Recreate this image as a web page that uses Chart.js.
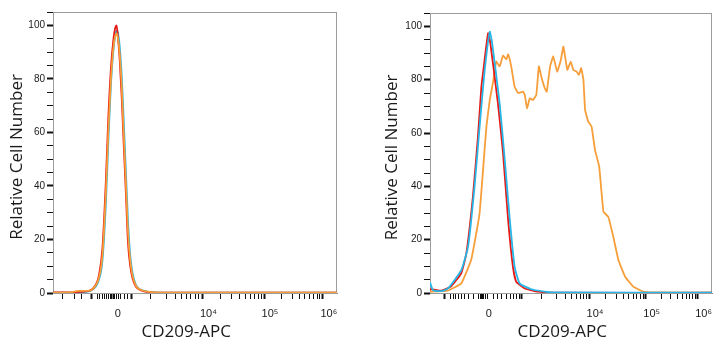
<!DOCTYPE html>
<html lang="en">
<head>
<meta charset="UTF-8">
<title>CD209-APC histograms</title>
<script src="https://cdn.jsdelivr.net/npm/chart.js"></script>
<style>
  html, body { margin: 0; padding: 0; background: #fff; }
  body { width: 722px; height: 350px; position: relative; overflow: hidden; }
  .panel { position: absolute; top: 0; width: 361px; height: 350px; }
  #leftBox { left: 0; }
  #rightBox { left: 361px; }
</style>
</head>
<body>

<div class="panel" id="leftBox"><canvas id="leftChart" width="361" height="350"></canvas></div>
<div class="panel" id="rightBox"><canvas id="rightChart" width="361" height="350"></canvas></div>

<script>
// x values are display channels (0-1000 across the plot), y is % of max
const tickLabels = ["", "0", "", "10⁴", "10⁵", "10⁶"];

// left panel: all three samples overlap
const leftMajor = [136, 207, 277, 526, 743, 950];
const leftMinor = [32, 77, 102, 155, 165, 176, 183, 190, 197, 202, 213, 218, 225, 232, 239, 250, 261,
                   342, 398, 430, 453, 471, 485, 500, 514,
                   591, 629, 656, 677, 695, 709, 722, 733,
                   805, 842, 867, 887, 904, 918, 930, 940];
const leftX      = [0, 60, 90, 130, 150, 162, 174, 186, 195, 204, 213, 219, 224, 229, 235, 242, 248, 256, 264, 272, 280, 292, 310, 340, 380, 1000];
const leftRed    = [0.2, 0.2, 0.4, 0.9, 3, 6.7, 16.7, 41.5, 66, 84, 95, 99, 100, 95, 87, 73, 58, 39, 19, 10, 5.5, 2.3, 1, 0.3, 0.1, 0.1];
const leftCyan   = [0.1, 0.1, 0.3, 0.7, 2.3, 5, 12, 33, 57, 78, 91, 96, 98, 97, 92, 81, 67, 47, 27, 14, 7.5, 3, 1.2, 0.4, 0.1, 0.1];
const leftOrange = [0.1, 0.2, 0.8, 0.9, 2.8, 5.8, 14, 37, 61, 80, 92, 96, 97, 95, 89, 77, 62, 43, 23, 12, 6.5, 2.7, 1.1, 0.4, 0.1, 0.1];

// right panel: stained sample (orange) shifts up
const rightMajor = [51, 187, 323, 564, 765, 949];
const rightMinor = [71, 83, 91, 100, 110, 122, 136, 154, 171, 178, 184, 191, 198, 204,
                    224, 240, 254, 272, 284, 295, 307, 317,
                    396, 449, 479, 502, 520, 534, 546, 556,
                    624, 660, 685, 704, 720, 734, 746, 756,
                    821, 853, 876, 894, 909, 921, 932, 941];
const rightRedX  = [0, 40, 74, 111, 129, 152, 170, 182, 188, 206, 214, 241, 259, 277, 294, 306, 336, 383, 461, 1000];
const rightRedY  = [1.5, 0.9, 2.4, 7.5, 15, 36, 58.7, 77, 82.5, 97.4, 93.7, 71, 52.5, 27.4, 9.9, 4.2, 1.7, 0.5, 0.1, 0.1];
const rightCyanX = [0, 11, 40, 64, 111, 135, 158, 178, 194, 212, 220, 247, 265, 283, 300, 318, 359, 407, 433, 1000];
const rightCyanY = [4, 1, 0.7, 1.7, 8.6, 17.4, 40, 65, 83.7, 98, 94, 71, 50, 27.4, 9.9, 3.6, 1.4, 0.5, 0.2, 0.1];
const rightOrangeX = [0, 64, 111, 146, 164, 176, 188, 200, 212, 223, 235, 247, 259, 271, 277, 288, 300, 312, 330, 336,
                      344, 354, 365, 377, 386, 395, 407, 414, 426, 437, 451, 464, 473, 487, 499, 508, 520, 528, 536, 544,
                      550, 561, 573, 585, 600, 615, 632, 650, 668, 692, 721, 756, 791, 1000];
const rightOrangeY = [0.5, 0.9, 3.6, 12.4, 22.4, 30, 46, 62.4, 72.4, 78.7, 86.8, 85, 89, 87.6, 89.5, 85, 77.4, 75, 75.5, 74.3,
                      69.3, 73, 72.4, 74.3, 85, 81, 76.8, 75.5, 85, 88.7, 83, 87.4, 92.4, 83.7, 86.8, 83.7, 83, 81.8, 84.3, 80,
                      68.7, 64.3, 62.4, 53.7, 47.4, 30.5, 28.6, 21.1, 12.4, 6.1, 2.4, 0.5, 0.2, 0.1];

const RED = "rgb(232,24,20)";
const CYAN = "rgb(38,182,232)";
const ORANGE = "rgb(246,158,58)";

function pts(xs, ys) {
  return xs.map((x, i) => ({ x: x, y: ys[i] }));
}

// grey box round the plot area
const framePlugin = {
  id: "frame",
  beforeDatasetsDraw(chart) {
    const a = chart.chartArea;
    const ctx = chart.ctx;
    ctx.save();
    ctx.strokeStyle = "#9c9c9c";
    ctx.lineWidth = 1;
    ctx.strokeRect(a.left + 0.5, a.top + 0.5, a.right - a.left - 1, a.bottom - a.top);
    ctx.restore();
  }
};

function makeChart(id, cfg) {
  const major = cfg.major;
  const minor = cfg.minor;
  return new Chart(document.getElementById(id), {
    type: "line",
    data: { datasets: cfg.datasets },
    options: {
      responsive: false,
      animation: false,
      layout: { padding: cfg.padding },
      plugins: { legend: { display: false }, tooltip: { enabled: false } },
      elements: { point: { radius: 0 }, line: { borderWidth: 1.8 } },
      scales: {
        x: {
          type: "linear",
          min: 0,
          max: 1000,
          afterBuildTicks: scale => {
            const t = major.map(v => ({ value: v, major: true }))
              .concat(minor.map(v => ({ value: v, major: false })));
            t.sort((a, b) => a.value - b.value);
            scale.ticks = t;
          },
          afterFit: scale => { scale.height = 57; },
          grid: {
            drawOnChartArea: false,
            tickLength: 6,
            tickColor: "#111",
            tickWidth: c => (c.tick && c.tick.major ? 2 : 1)
          },
          border: { color: "#8a8a8a", width: 1 },
          ticks: {
            autoSkip: false,
            maxRotation: 0,
            padding: 8,
            labelOffset: 6,
            color: "#1a1a1a",
            font: { family: "Liberation Sans", size: 11 },
            callback: v => {
              const i = major.indexOf(v);
              return i >= 0 ? tickLabels[i] : "";
            }
          },
          title: {
            display: true,
            text: "CD209-APC\u00a0\u00a0\u00a0\u00a0",
            color: "#1a1a1a",
            font: { family: "Open Sans", size: 17 },
            padding: { top: 0, bottom: 8 }
          }
        },
        y: {
          min: 0,
          max: 105,
          afterFit: scale => { scale.width = cfg.yWidth; },
          grid: {
            drawOnChartArea: false,
            tickLength: 6,
            tickColor: "#111",
            tickWidth: c => (c.tick && c.tick.value % 20 === 0 ? 2 : 1)
          },
          border: { color: "#8a8a8a", width: 1 },
          ticks: {
            stepSize: 5,
            autoSkip: false,
            padding: 2,
            color: "#1a1a1a",
            font: { family: "Liberation Sans", size: 10 },
            callback: v => (v % 20 === 0 && v <= 100 ? v : "")
          },
          title: {
            display: true,
            text: "Relative Cell Number\u00a0\u00a0",
            color: "#1a1a1a",
            font: { family: "Open Sans", size: 17 },
            padding: { top: cfg.titlePad, bottom: 0 }
          }
        }
      }
    },
    plugins: [framePlugin]
  });
}

makeChart("leftChart", {
  major: leftMajor,
  minor: leftMinor,
  yWidth: 53,
  titlePad: 7,
  padding: { top: 12, right: 24, left: 0, bottom: 0 },
  datasets: [
    { label: "orange", data: pts(leftX, leftOrange), borderColor: ORANGE, cubicInterpolationMode: "monotone" },
    { label: "red", data: pts(leftX, leftRed), borderColor: RED, cubicInterpolationMode: "monotone" },
    { label: "cyan", data: pts(leftX, leftCyan), borderColor: CYAN, cubicInterpolationMode: "monotone" }
  ]
});

makeChart("rightChart", {
  major: rightMajor,
  minor: rightMinor,
  yWidth: 69,
  titlePad: 21,
  padding: { top: 13, right: 10, left: 0, bottom: 0 },
  datasets: [
    { label: "cyan", data: pts(rightCyanX, rightCyanY), borderColor: CYAN, tension: 0.15 },
    { label: "red", data: pts(rightRedX, rightRedY), borderColor: RED, tension: 0.15 },
    { label: "orange", data: pts(rightOrangeX, rightOrangeY), borderColor: ORANGE, tension: 0.1 }
  ]
});
</script>

</body>
</html>
